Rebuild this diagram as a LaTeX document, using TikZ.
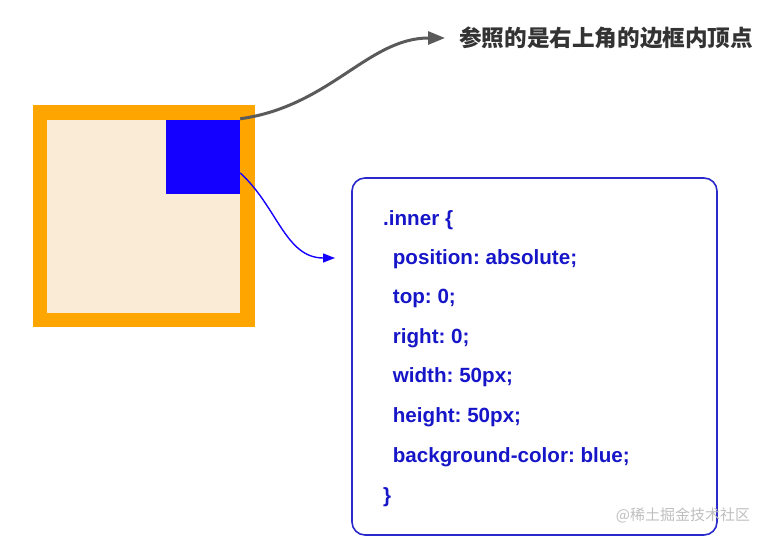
\documentclass[tikz,border=0pt]{standalone}
\usepackage{fontspec}
\setmainfont{Liberation Sans}
\newfontfamily\cjk{Noto Sans CJK SC}
\usetikzlibrary{arrows.meta}
\definecolor{borderorange}{HTML}{FFA500}
\definecolor{innerbg}{HTML}{FAEBD7}
\definecolor{boxblue}{HTML}{1400FF}
\definecolor{codeblue}{HTML}{1616C8}
\definecolor{framblue}{HTML}{2A2ACC}
\definecolor{arrowgray}{HTML}{5A5A5A}
\frenchspacing
\tikzset{
  codeline/.style={anchor=west, inner sep=0pt, text=codeblue, font=\fontsize{20.6}{24}\selectfont\bfseries},
}
\begin{document}
\begin{tikzpicture}[x=1pt,y=-1pt]
\useasboundingbox (0,0) rectangle (779,546);
\node[fill=borderorange, minimum size=222pt, inner sep=0pt] (outer) at (144,216) {};
\node[fill=innerbg, minimum size=193pt, inner sep=0pt] (inner) at (143.3,216.3) {};
\node[fill=boxblue, minimum size=74pt, inner sep=0pt] (child) at (203,157) {};
\node[anchor=west, inner sep=0pt, text=black!80, font=\cjk\fontsize{22.6}{26}\selectfont\bfseries] (note) at (459,38) {参照的是右上角的边框内顶点};
\node[draw=framblue, line width=1.6pt, rounded corners=13pt, minimum width=365pt, minimum height=357pt] (code) at (534.5,356.5) {};
\coordinate (codetip) at (335,258);
% code lines
\node[codeline] (l1) at (383,220) {.inner \{};
\node[codeline] (l2) at (392.7,259) {position: absolute;};
\node[codeline] (l3) at (392.7,298) {top: 0;};
\node[codeline] (l4) at (392.7,338) {right: 0;};
\node[codeline] (l5) at (392.7,377) {width: 50px;};
\node[codeline] (l6) at (392.7,417) {height: 50px;};
\node[codeline] (l7) at (392.7,457) {background-color: blue;};
\node[codeline] (l8) at (383,497) {\}};
\node[text=black!25, inner sep=0pt, font=\cjk\fontsize{15}{18}\selectfont] (mark) at (683,515) {@稀土掘金技术社区};
% connectors
\draw[arrowgray, line width=3pt, -{Triangle[length=17pt,width=13pt]}, shorten >=14pt] ([yshift=1pt]child.north east) to[out=8,in=180] (note.west);
\draw[boxblue, line width=1.4pt, -{Triangle[length=12pt,width=9pt]}] ([yshift=-16pt]child.east) to[out=-42,in=180] (codetip);
\end{tikzpicture}
\end{document}
